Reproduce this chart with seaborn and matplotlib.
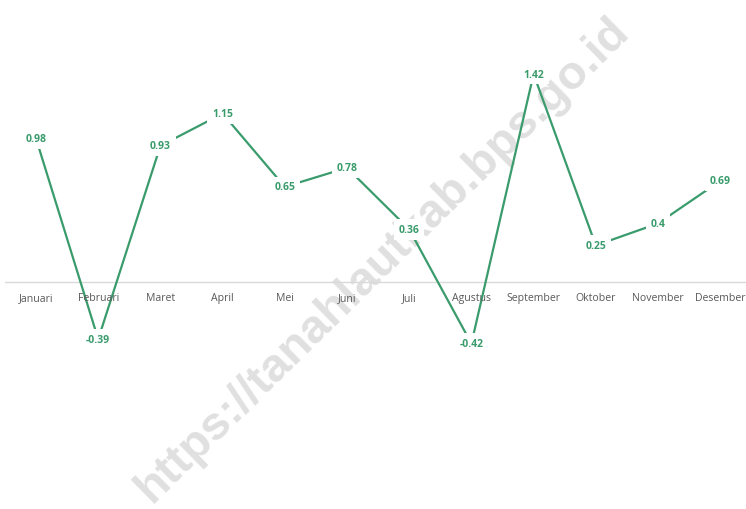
import pandas as pd
import seaborn as sns
import matplotlib.pyplot as plt

# Monthly values
months = ['Januari', 'Februari', 'Maret', 'April', 'Mei', 'Juni', 'Juli',
          'Agustus', 'September', 'Oktober', 'November', 'Desember']
values = [0.98, -0.39, 0.93, 1.15, 0.65, 0.78, 0.36, -0.42, 1.42, 0.25, 0.4, 0.69]
labels = ['0.98', '-0.39', '0.93', '1.15', '0.65', '0.78', '0.36', '-0.42',
          '1.42', '0.25', '0.4', '0.69']

data = pd.DataFrame({'Bulan': months, 'Nilai': values})
data['pos'] = range(len(months))

sns.set_style('white')
plt.rcParams['font.family'] = ['Open Sans', 'DejaVu Sans']

green = '#3a9b6c'

fig = plt.figure(figsize=(7.46, 5.10), dpi=100)
ax = fig.add_axes([0, 0, 1, 1])

# Watermark
ax.text(0.513, 0.49, 'https://tanahlautkab.bps.go.id', transform=ax.transAxes,
        rotation=44.5, ha='center', va='center', fontsize=34, fontweight='bold',
        color='#e0e0e0', family=['Liberation Sans', 'DejaVu Sans'], zorder=0)

# Zero line
ax.plot([-0.5, 11.5], [0, 0], color='#d9d9d9', lw=1, zorder=1)

sns.lineplot(data=data, x='pos', y='Nilai', color=green, lw=1.6, ax=ax, zorder=2)

# Data labels with white boxes
for i, (v, t) in enumerate(zip(values, labels)):
    ax.text(i, v, t, ha='center', va='center', fontsize=7.5, fontweight='bold',
            color=green, zorder=3,
            bbox=dict(boxstyle='square,pad=0.45', fc='white', ec='none'))

# Category labels along the zero line
for i, m in enumerate(months):
    ax.text(i, -0.105, m, ha='center', va='center', fontsize=7.6, color='#595959',
            zorder=3)

ax.set_xlim(-0.579, 11.415)
ax.set_ylim(-1.549, 1.932)
ax.axis('off')

plt.savefig('out.png', dpi=100)
